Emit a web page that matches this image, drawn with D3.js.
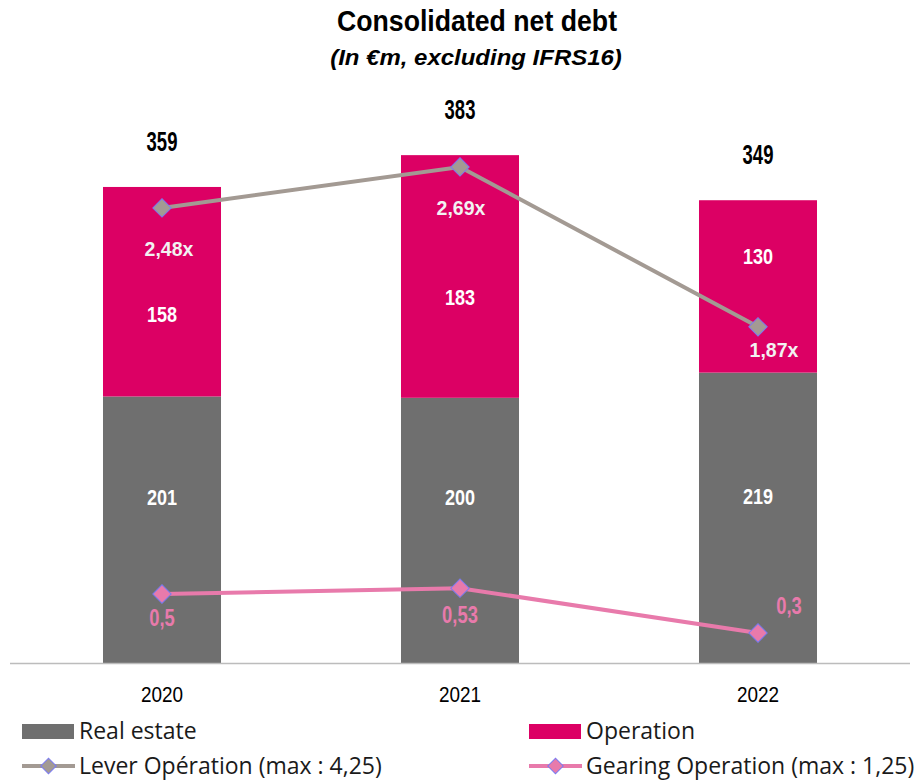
<!DOCTYPE html>
<html>
<head>
<meta charset="utf-8">
<script src="https://cdn.jsdelivr.net/npm/d3@7"></script>
<style>
  body { margin: 0; background: #fff; }
  svg text { font-family: "Liberation Sans", Arial, sans-serif; }
  .legend text { font-family: "Open Sans", "Noto Sans", sans-serif; }
</style>
</head>
<body>
<script>
// data
var years = ["2020", "2021", "2022"];
var realEstate = [201, 200, 219];
var operation = [158, 183, 130];
var totals = [359, 383, 349];
var leverOp = [2.48, 2.69, 1.87];
var gearingOp = [0.5, 0.53, 0.3];
var leverLabels = ["2,48x", "2,69x", "1,87x"];
var gearingLabels = ["0,5", "0,53", "0,3"];

var svgWidth = 921;
var svgHeight = 781;

var colors = {
  real: "#6f6f6f",
  op: "#dc0064",
  lever: "#a39a93",
  gearing: "#e87aab",
  marker: "#7b7bf0"
};

var svg = d3.select("body")
  .append("svg")
  .attr("width", svgWidth)
  .attr("height", svgHeight);

// condensed-looking text: squeeze Liberation Sans horizontally
function addText(parent, x, y, str, o) {
  return parent.append("text")
    .attr("transform", `translate(${x},${y}) scale(${o.sx || 1},1)`)
    .attr("text-anchor", o.anchor || "middle")
    .attr("font-size", o.size)
    .attr("font-weight", o.weight || "normal")
    .attr("font-style", o.style || "normal")
    .attr("fill", o.fill || "#000")
    .text(str);
}

// title
addText(svg, 477, 31, "Consolidated net debt", { size: 29, sx: 0.92, weight: "bold" });
addText(svg, 476, 65, "(In €m, excluding IFRS16)", { size: 22, sx: 1.09, weight: "bold", style: "italic" });

// scales
var x = d3.scaleBand()
  .domain(years)
  .range([13, 907])
  .paddingInner(0.604)
  .paddingOuter(0.302);

var y = d3.scaleLinear().domain([0, 500]).range([663, 0]);
var y2 = d3.scaleLinear().domain([0, 3.5]).range([691.5, 9]);

var stackData = years.map(function(yr, i) {
  return { year: yr, real: realEstate[i], op: operation[i], total: totals[i] };
});

// bars
var g = svg.append("g");
g.selectAll("rect.real")
  .data(stackData)
  .enter()
  .append("rect")
  .attr("class", "real")
  .attr("x", d => x(d.year))
  .attr("width", x.bandwidth())
  .attr("y", d => y(d.real))
  .attr("height", d => y(0) - y(d.real))
  .attr("fill", colors.real);

g.selectAll("rect.op")
  .data(stackData)
  .enter()
  .append("rect")
  .attr("class", "op")
  .attr("x", d => x(d.year))
  .attr("width", x.bandwidth())
  .attr("y", d => y(d.real + d.op))
  .attr("height", d => y(d.real) - y(d.real + d.op))
  .attr("fill", colors.op);

// x axis (line only, labels drawn below)
var xAxis = d3.axisBottom(x).tickSize(0).tickFormat("");
var axisG = svg.append("g")
  .attr("transform", "translate(0,663)")
  .call(xAxis);
axisG.select(".domain").attr("d", "M10,0.5H910").attr("stroke", "#bcbcbc").attr("stroke-width", 1.5);

var cx = d => x(d) + x.bandwidth() / 2;

years.forEach(function(yr) {
  addText(svg, cx(yr), 702, yr, { size: 22, sx: 0.86 });
});

// value labels
var realDy = [-33, -33, -22];
var opDy = [22, 21, -30];
stackData.forEach(function(d, i) {
  addText(g, cx(d.year), y(d.real / 2) + realDy[i] + 8, d.real,
    { size: 22, sx: 0.82, weight: "bold", fill: "#fff" });
  addText(g, cx(d.year), y(d.real + d.op / 2) + opDy[i] + 8, d.op,
    { size: 22, sx: 0.82, weight: "bold", fill: "#fff" });
  addText(g, cx(d.year), y(d.total) - 36, d.total,
    { size: 28, sx: 0.66, weight: "bold" });
});

// lines with diamond markers
function drawLine(values, color) {
  var line = d3.line()
    .x((d, i) => cx(years[i]))
    .y(d => y2(d));
  svg.append("path")
    .datum(values)
    .attr("d", line)
    .attr("fill", "none")
    .attr("stroke", color)
    .attr("stroke-width", 4);
  svg.selectAll(null)
    .data(values)
    .enter()
    .append("rect")
    .attr("x", -6.5).attr("y", -6.5)
    .attr("width", 13).attr("height", 13)
    .attr("transform", (d, i) => `translate(${cx(years[i])},${y2(d)}) rotate(45)`)
    .attr("fill", color)
    .attr("stroke", colors.marker)
    .attr("stroke-width", 1);
}
drawLine(leverOp, colors.lever);
drawLine(gearingOp, colors.gearing);

// line labels (offset from marker)
var leverOff = [[7, 48], [1, 48], [16, 30]];
var gearOff = [[0, 32], [0, 35], [31, -19]];
leverOp.forEach(function(v, i) {
  addText(svg, cx(years[i]) + leverOff[i][0], y2(v) + leverOff[i][1], leverLabels[i],
    { size: 21, sx: 0.93, weight: "bold", fill: "#f2f2f2" });
});
gearingOp.forEach(function(v, i) {
  addText(svg, cx(years[i]) + gearOff[i][0], y2(v) + gearOff[i][1], gearingLabels[i],
    { size: 23, sx: 0.8, weight: "bold", fill: colors.gearing });
});

// legend
var legend = svg.append("g").attr("class", "legend");
var legendItems = [
  { label: "Real estate", type: "rect", color: colors.real, x: 22, y: 731 },
  { label: "Operation", type: "rect", color: colors.op, x: 529, y: 731 },
  { label: "Lever Opération (max : 4,25)", type: "line", color: colors.lever, x: 22, y: 766 },
  { label: "Gearing Operation (max : 1,25)", type: "line", color: colors.gearing, x: 529, y: 766 }
];
legendItems.forEach(function(it) {
  if (it.type === "rect") {
    legend.append("rect")
      .attr("x", it.x).attr("y", it.y - 7)
      .attr("width", 52).attr("height", 15)
      .attr("fill", it.color);
  } else {
    legend.append("line")
      .attr("x1", it.x).attr("x2", it.x + 53)
      .attr("y1", it.y).attr("y2", it.y)
      .attr("stroke", it.color).attr("stroke-width", 4);
    legend.append("rect")
      .attr("x", -5.5).attr("y", -5.5)
      .attr("width", 11).attr("height", 11)
      .attr("transform", `translate(${it.x + 26.5},${it.y}) rotate(45)`)
      .attr("fill", it.color)
      .attr("stroke", colors.marker);
  }
  legend.append("text")
    .attr("x", it.x + 57)
    .attr("y", it.y)
    .attr("dy", "0.36em")
    .attr("font-size", 23)
    .attr("fill", "#1a1a1a")
    .text(it.label);
});
</script>
</body>
</html>
